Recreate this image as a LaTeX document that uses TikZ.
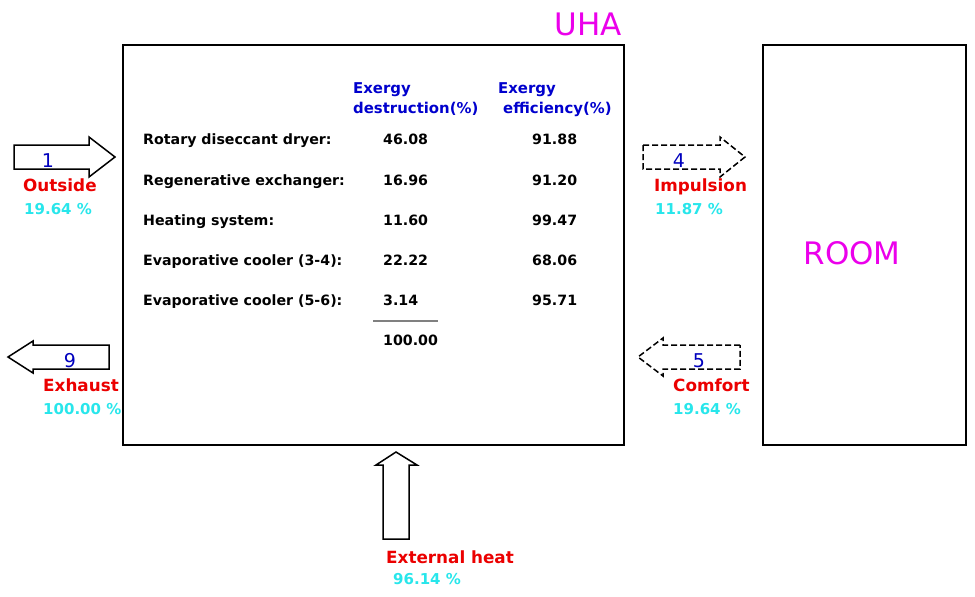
\documentclass[tikz,border=0pt]{standalone}
\usepackage{fontspec}
\setmainfont{DejaVu Sans}
\definecolor{hdrblue}{RGB}{0,0,205}
\definecolor{numblue}{RGB}{0,0,190}
\definecolor{lblred}{RGB}{235,0,0}
\definecolor{pctcyan}{RGB}{40,230,235}
\definecolor{magent}{RGB}{235,0,235}
\begin{document}
\begin{tikzpicture}[x=1pt,y=-1pt,
  box/.style={draw=black,line width=2.2pt},
  blockarrow/.style={draw=black,line width=1.5pt,line join=miter,fill=white},
  dasharrow/.style={blockarrow,dash pattern=on 6pt off 3pt},
  tabtxt/.style={anchor=base west,inner sep=0pt,font=\fontsize{14.2}{16}\selectfont\bfseries},
  hdr/.style={tabtxt,text=hdrblue,font=\fontsize{14.9}{16}\selectfont\bfseries},
  flownum/.style={anchor=base,inner sep=0pt,text=numblue,font=\fontsize{19}{21}\selectfont},
  lbl/.style={anchor=base west,inner sep=0pt,text=lblred,font=\fontsize{16.8}{18}\selectfont\bfseries},
  pct/.style={anchor=base west,inner sep=0pt,text=pctcyan,font=\fontsize{15}{17}\selectfont\bfseries},
  big/.style={anchor=base,inner sep=0pt,text=magent,font=\fontsize{31}{34}\selectfont}]
\useasboundingbox (0,0) rectangle (975,597);
% boxes
\node[box,minimum width=501pt,minimum height=400pt,anchor=north west,inner sep=0pt] (uha) at (122,44) {};
\node[box,minimum width=203pt,minimum height=400pt,anchor=north west,inner sep=0pt] (room) at (762,44) {};
\node[big] (uhalbl) at (588,35) {UHA};
\node[big] (roomlbl) at (852,264) {ROOM};
% table
\node[hdr] (h1a) at (353,93) {Exergy};
\node[hdr] (h1b) at (353,113) {destruction(\%)};
\node[hdr] (h2a) at (498,93) {Exergy};
\node[hdr] (h2b) at (503,113) {efficiency(\%)};
\node[tabtxt] (r1) at (143,144) {Rotary diseccant dryer:};
\node[tabtxt] (r2) at (143,185) {Regenerative exchanger:};
\node[tabtxt] (r3) at (143,225) {Heating system:};
\node[tabtxt] (r4) at (143,265) {Evaporative cooler (3-4):};
\node[tabtxt] (r5) at (143,305) {Evaporative cooler (5-6):};
\node[tabtxt] (d1) at (383,144) {46.08};
\node[tabtxt] (d2) at (383,185) {16.96};
\node[tabtxt] (d3) at (383,225) {11.60};
\node[tabtxt] (d4) at (383,265) {22.22};
\node[tabtxt] (d5) at (383,305) {3.14};
\node[tabtxt] (dt) at (383,345) {100.00};
\node[tabtxt] (e1) at (532,144) {91.88};
\node[tabtxt] (e2) at (532,185) {91.20};
\node[tabtxt] (e3) at (532,225) {99.47};
\node[tabtxt] (e4) at (532,265) {68.06};
\node[tabtxt] (e5) at (532,305) {95.71};
\coordinate (sumL) at (373,321);
\coordinate (sumR) at (438,321);
\draw[gray,line width=1.3pt] (sumL) -- (sumR);
% arrow 1 (outside, right)
\draw[blockarrow] (14,145) -- (89,145) -- (89,137) -- (115,157) -- (89,177) -- (89,169) -- (14,169) -- cycle;
\node[flownum] (n1) at (48,167) {1};
\node[lbl] (l1) at (23,191) {Outside};
\node[pct] (p1) at (24,214) {19.64 \%};
% arrow 9 (exhaust, left)
\draw[blockarrow] (109,345) -- (33,345) -- (33,341) -- (8,357) -- (33,373) -- (33,369) -- (109,369) -- cycle;
\node[flownum] (n9) at (70,367) {9};
\node[lbl] (l9) at (43,391) {Exhaust};
\node[pct] (p9) at (43,414) {100.00 \%};
% arrow 4 (impulsion, right, dashed)
\draw[dasharrow] (643,145) -- (720,145) -- (720,137) -- (745,157) -- (720,177) -- (720,169) -- (643,169) -- cycle;
\node[flownum] (n4) at (679,167) {4};
\node[lbl] (l4) at (654,191) {Impulsion};
\node[pct] (p4) at (655,214) {11.87 \%};
% arrow 5 (comfort, left, dashed)
\draw[dasharrow] (740,345) -- (663,345) -- (663,338) -- (638,357) -- (663,376) -- (663,369) -- (740,369) -- cycle;
\node[flownum] (n5) at (699,367) {5};
\node[lbl] (l5) at (673,391) {Comfort};
\node[pct] (p5) at (673,414) {19.64 \%};
% external heat arrow (up)
\draw[blockarrow] (383,539) -- (383,465) -- (376,465) -- (396,452) -- (417,465) -- (409,465) -- (409,539) -- cycle;
\node[lbl] (lh) at (386,563) {External heat};
\node[pct] (ph) at (393,584) {96.14 \%};
\end{tikzpicture}
\end{document}
